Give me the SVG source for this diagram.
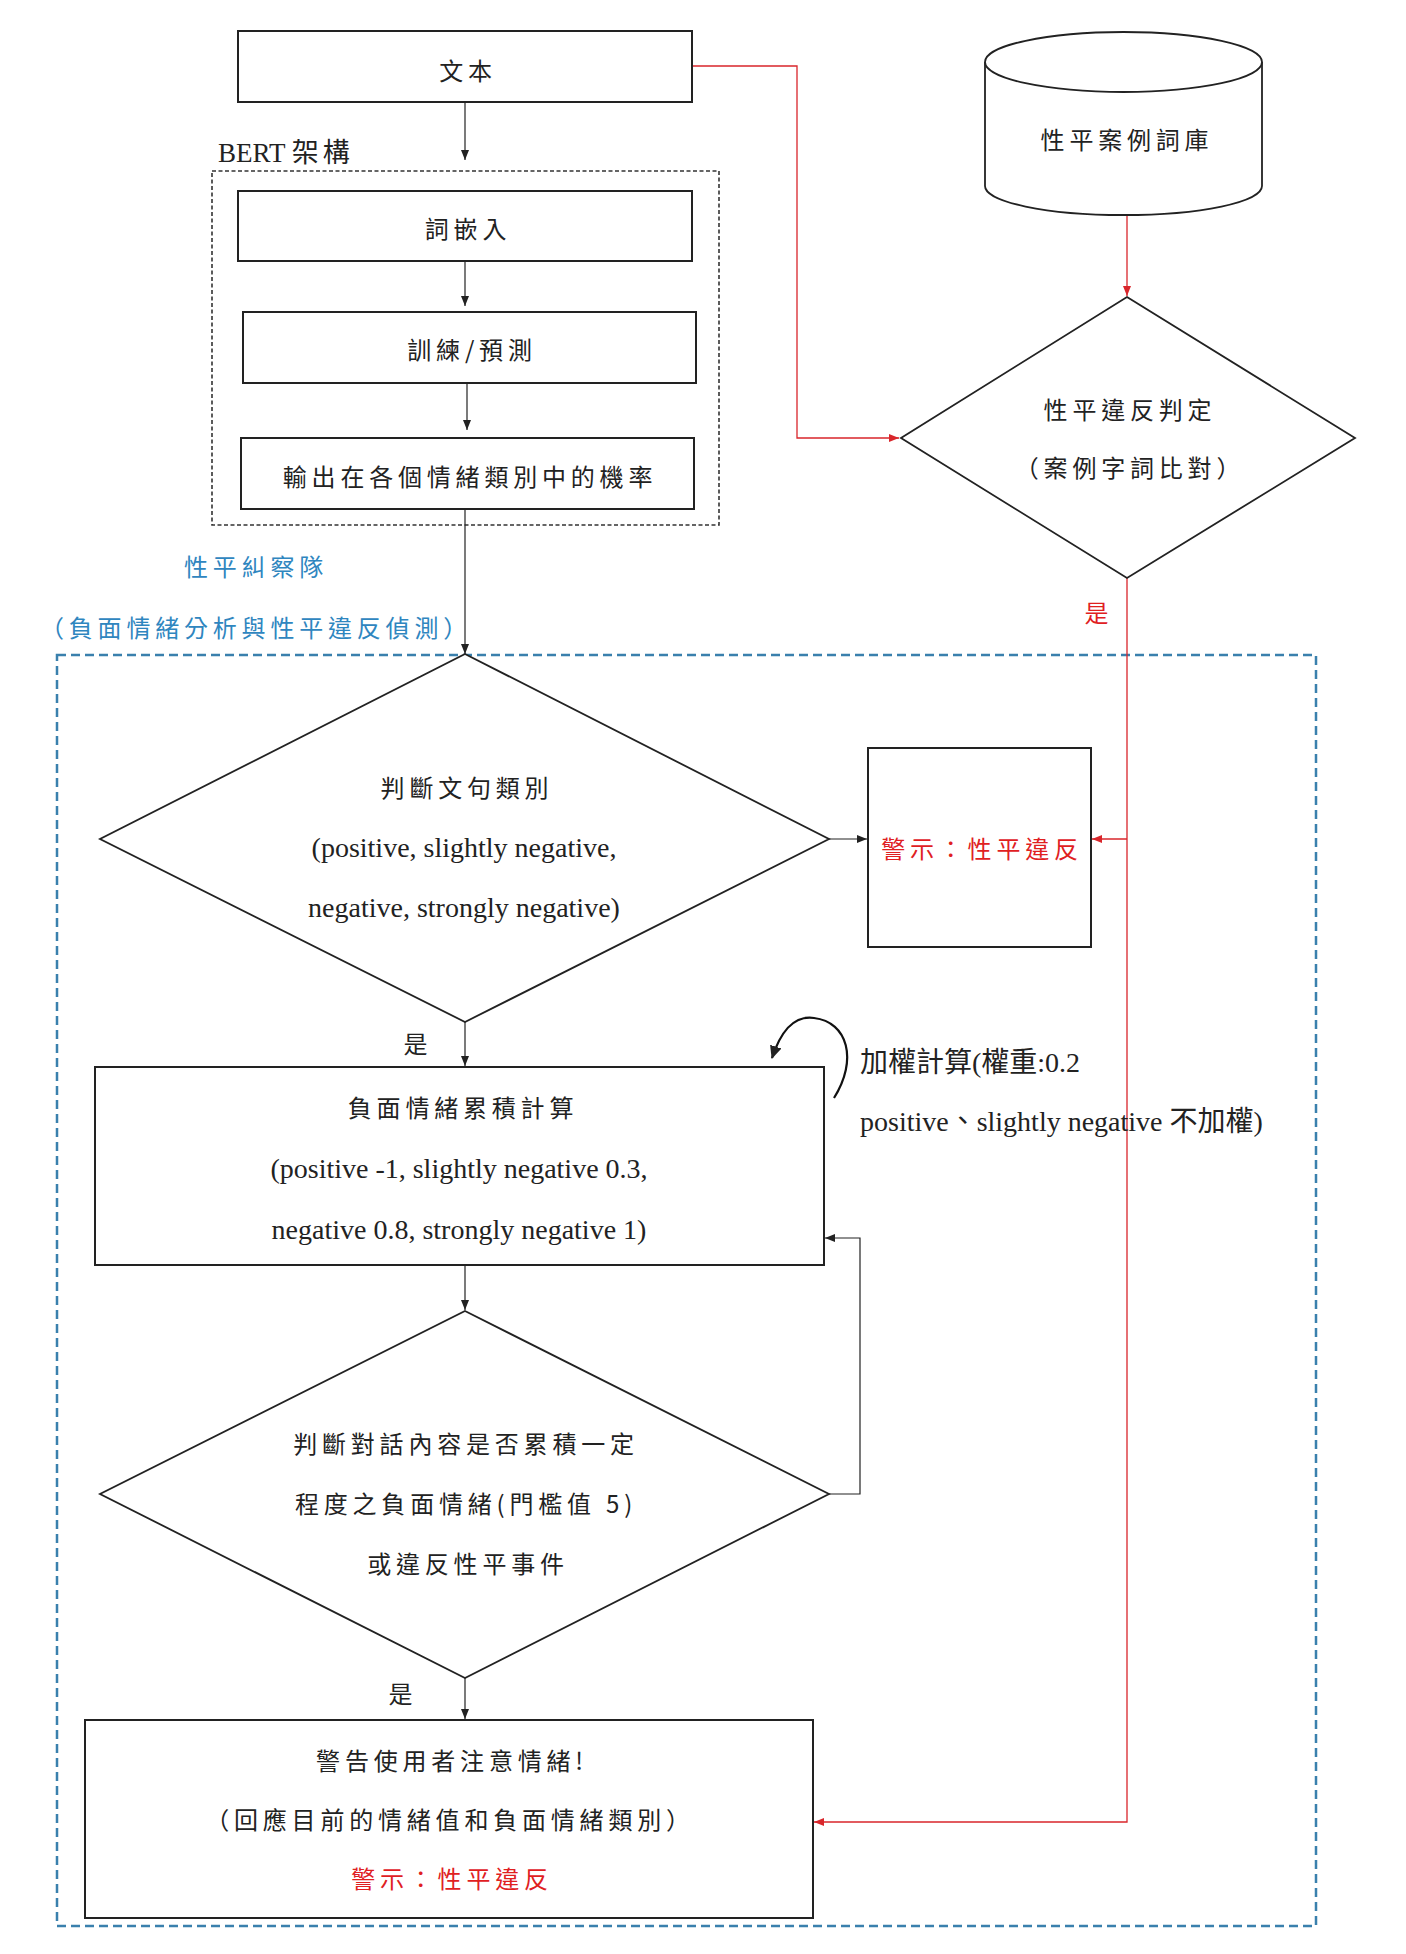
<svg xmlns="http://www.w3.org/2000/svg" width="1406" height="1954" viewBox="0 0 1406 1954">
<style>
.bg{fill:#ffffff}
.box{fill:#ffffff;stroke:#222;stroke-width:2}
.shape{fill:#ffffff;stroke:#222;stroke-width:1.8}
.conn{fill:none;stroke:#222;stroke-width:1.2}
.rconn{fill:none;stroke:#d9262b;stroke-width:1.3}
.cjk{font-family:"Noto Sans CJK TC","Noto Sans CJK SC",sans-serif;font-size:24px;letter-spacing:4.8px;fill:#222;text-anchor:middle;dominant-baseline:central}
.ser{font-family:"Liberation Serif","Noto Sans CJK TC",serif;font-size:28px;fill:#222;text-anchor:middle;dominant-baseline:central}
.st{text-anchor:start}
.red{fill:#e0201f}
.blue{fill:#2f86bf}
</style>
<defs>
<marker id="ab" markerUnits="userSpaceOnUse" markerWidth="10" markerHeight="8" refX="10" refY="4" orient="auto"><path d="M0,0 L10,4 L0,8 Z" fill="#222"/></marker>
<marker id="ar" markerUnits="userSpaceOnUse" markerWidth="10" markerHeight="8" refX="10" refY="4" orient="auto"><path d="M0,0 L10,4 L0,8 Z" fill="#d9262b"/></marker>
<marker id="ac" markerUnits="userSpaceOnUse" markerWidth="14" markerHeight="12" refX="12" refY="6" orient="auto"><path d="M0,0 L13,6 L0,12 Z" fill="#222"/></marker>
</defs>
<rect class="bg" x="0" y="0" width="1406" height="1954"/>

<g id="bert-group">
<rect x="212" y="171" width="507" height="354" fill="none" stroke="#333" stroke-width="1.6" stroke-dasharray="4 2.5"/>
<text x="218" y="153" font-family="Liberation Serif, Noto Sans CJK TC, serif" font-size="27" fill="#222" dominant-baseline="central">BERT <tspan letter-spacing="4">架構</tspan></text>
</g>

<g id="team-group">
<rect x="57" y="655" width="1259" height="1271" fill="none" stroke="#3a80ad" stroke-width="2.5" stroke-dasharray="9 5"/>
<text class="cjk blue" x="256" y="565">性平糾察隊</text>
<text class="cjk blue" x="256" y="626">（負面情緒分析與性平違反偵測）</text>
</g>

<g id="connectors">
<path class="conn" d="M465,102 V160" marker-end="url(#ab)"/>
<path class="conn" d="M465,261 V306" marker-end="url(#ab)"/>
<path class="conn" d="M467,383 V430" marker-end="url(#ab)"/>
<path class="conn" d="M465,509 V654" marker-end="url(#ab)"/>
<path class="conn" d="M829,839 H867" marker-end="url(#ab)"/>
<path class="conn" d="M465,1022 V1066" marker-end="url(#ab)"/>
<path class="conn" d="M465,1265 V1310" marker-end="url(#ab)"/>
<path class="conn" d="M829,1494 H860 V1238 H825" marker-end="url(#ab)"/>
<path class="conn" d="M465,1678 V1719" marker-end="url(#ab)"/>
<path d="M834,1098 C858,1060 848,1022 814,1018 C792,1015 780,1034 772,1058" fill="none" stroke="#111" stroke-width="2.2" marker-end="url(#ac)"/>
<path class="rconn" d="M692,66 H797 V438 H899" marker-end="url(#ar)"/>
<path class="rconn" d="M1127,215 V296" marker-end="url(#ar)"/>
<path class="rconn" d="M1127,578 V1822 H814" marker-end="url(#ar)"/>
<path class="rconn" d="M1127,839 H1092" marker-end="url(#ar)"/>
<text class="cjk red" x="1099" y="611">是</text>
<text class="cjk" x="418" y="1042">是</text>
<text class="cjk" x="403" y="1692">是</text>
<text class="ser st" x="860" y="1062">加權計算(權重:0.2</text>
<text class="ser st" x="860" y="1121">positive、slightly negative 不加權)</text>
</g>

<g id="text-input">
<rect class="box" x="238" y="31" width="454" height="71"/>
<text class="cjk" x="468" y="69">文本</text>
</g>

<g id="word-embedding">
<rect class="box" x="238" y="191" width="454" height="70"/>
<text class="cjk" x="468" y="227">詞嵌入</text>
</g>

<g id="train-predict">
<rect class="box" x="243" y="312" width="453" height="71"/>
<text class="cjk" x="472" y="348">訓練/預測</text>
</g>

<g id="output-prob">
<rect class="box" x="241" y="438" width="453" height="71"/>
<text class="cjk" x="470" y="475">輸出在各個情緒類別中的機率</text>
</g>

<g id="case-db">
<path class="shape" d="M985,62 A138.5,30 0 0,1 1262,62 L1262,186 A138.5,29 0 0,1 985,186 Z"/>
<path class="shape" fill="none" d="M985,62 A138.5,30 0 0,0 1262,62"/>
<text class="cjk" x="1127" y="138">性平案例詞庫</text>
</g>

<g id="gender-judge">
<polygon class="shape" points="1127,297 1355,438 1127,578 901,438"/>
<text class="cjk" x="1130" y="408">性平違反判定</text>
<text class="cjk" x="1130" y="466">（案例字詞比對）</text>
</g>

<g id="classify">
<polygon class="shape" points="465,654 829,839 465,1022 100,839"/>
<text class="cjk" x="467" y="786">判斷文句類別</text>
<text class="ser" x="464" y="847">(positive, slightly negative,</text>
<text class="ser" x="464" y="907">negative, strongly negative)</text>
</g>

<g id="warn-gender">
<rect class="box" x="868" y="748" width="223" height="199"/>
<text class="cjk red" x="982" y="847">警示：性平違反</text>
</g>

<g id="accumulate">
<rect class="box" x="95" y="1067" width="729" height="198"/>
<text class="cjk" x="463" y="1106">負面情緒累積計算</text>
<text class="ser" x="459" y="1168">(positive -1, slightly negative 0.3,</text>
<text class="ser" x="459" y="1229">negative 0.8, strongly negative 1)</text>
</g>

<g id="threshold">
<polygon class="shape" points="465,1311 829,1494 465,1678 100,1494"/>
<text class="cjk" x="466" y="1442">判斷對話內容是否累積一定</text>
<text class="cjk" x="466" y="1502">程度之負面情緒(門檻值 5)</text>
<text class="cjk" x="468" y="1562">或違反性平事件</text>
</g>

<g id="warn-user">
<rect class="box" x="85" y="1720" width="728" height="198"/>
<text class="cjk" x="452" y="1759">警告使用者注意情緒!</text>
<text class="cjk" x="450" y="1818">（回應目前的情緒值和負面情緒類別）</text>
<text class="cjk red" x="452" y="1877">警示：性平違反</text>
</g>
</svg>
